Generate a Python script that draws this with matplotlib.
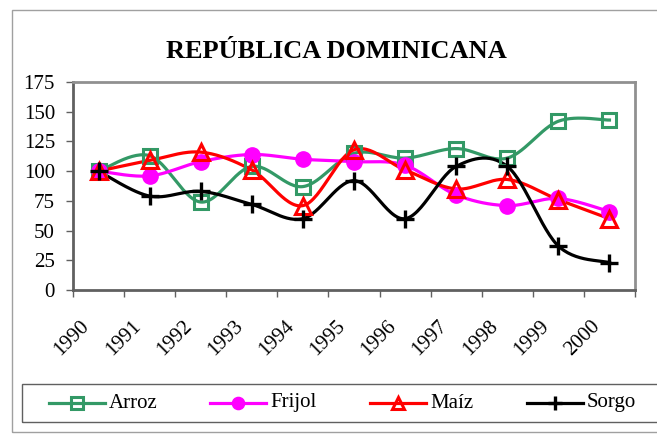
import numpy as np
import matplotlib
matplotlib.use("Agg")
import matplotlib.pyplot as plt
import matplotlib.transforms as mtransforms
from matplotlib.lines import Line2D
from matplotlib.patches import Rectangle

years = ["1990", "1991", "1992", "1993", "1994", "1995", "1996", "1997", "1998", "1999", "2000"]
arroz = [100, 113, 74, 104, 87, 115, 111, 119, 111, 142, 143]
frijol = [100, 96, 108, 114, 110, 108, 105, 80, 71, 77, 66]
maiz = [100, 109, 116, 101, 71, 118, 101, 85, 93, 76, 60]
sorgo = [100, 79, 83, 72, 60, 92, 60, 104, 104, 37, 23]
series_names = ["Arroz", "Frijol", "Maíz", "Sorgo"]

plt.rcParams['font.family'] = ['Liberation Serif', 'DejaVu Serif']

W, H = 657, 437
fig = plt.figure(figsize=(W / 100, H / 100), dpi=100)

# outer chart border
fig.patches.append(Rectangle((12 / W, 1 - 432 / H), 1.2, (432 - 10) / H,
                             transform=fig.transFigure, fill=False,
                             edgecolor='#a0a0a0', linewidth=1.0))

ax = fig.add_axes([73 / W, 1 - 290 / H, (635 - 73) / W, (290 - 82) / H])


def smooth(xs, ys, n=30):
    P = np.column_stack([np.asarray(xs, float), np.asarray(ys, float)])
    out = [P[0]]
    m = len(P)
    for i in range(m - 1):
        p0 = P[i - 1] if i > 0 else P[i]
        p1 = P[i]
        p2 = P[i + 1]
        p3 = P[i + 2] if i + 2 < m else P[i + 1]
        c1 = p1 + (p2 - p0) / 6.0
        c2 = p2 - (p3 - p1) / 6.0
        t = np.linspace(0, 1, n)[1:, None]
        seg = ((1 - t) ** 3) * p1 + 3 * ((1 - t) ** 2) * t * c1 + 3 * (1 - t) * t ** 2 * c2 + t ** 3 * p2
        out.extend(seg)
    out = np.array(out)
    return out[:, 0], out[:, 1]


x = np.arange(len(years))
styles = [
    (arroz, '#339966', dict(marker='s', markerfacecolor='none', markersize=10, markeredgewidth=2.2)),
    (frijol, '#FF00FF', dict(marker='o', markerfacecolor='#FF00FF', markersize=11, markeredgewidth=1)),
    (maiz, '#FF0000', dict(marker='^', markerfacecolor='none', markersize=11, markeredgewidth=2.2)),
    (sorgo, '#000000', dict(marker='+', markersize=13, markeredgewidth=2.4)),
]
for (vals, col, mk), name in zip(styles, series_names):
    sx, sy = smooth(x, vals)
    ax.plot(sx, sy, color=col, linewidth=2.3, zorder=2)
    ax.plot(x, vals, linestyle='none', color=col, markeredgecolor=col, zorder=3, **mk)

ax.set_xlim(-0.5, len(years) - 0.5)
ax.set_ylim(0, 175)
ax.set_yticks(np.arange(0, 176, 25))
ax.tick_params(axis='y', labelsize=15, length=5, width=1, color='#606060', pad=8)
ax.set_xticks(np.arange(-0.5, len(years), 1.0))
ax.set_xticklabels([])
ax.tick_params(axis='x', which='major', length=5, width=1, color='#606060')
ax.set_xticks(x, minor=True)
ax.set_xticklabels(years, minor=True, rotation=45, ha='right', va='top', fontsize=15)
ax.tick_params(axis='x', which='minor', length=0, pad=19)
shift = mtransforms.ScaledTranslation(-5 / 100, 0, fig.dpi_scale_trans)
for lbl in ax.get_xticklabels(minor=True):
    lbl.set_transform(lbl.get_transform() + shift)

for s in ['top', 'right']:
    ax.spines[s].set_color('#909090')
    ax.spines[s].set_linewidth(2.0)
for s in ['left', 'bottom']:
    ax.spines[s].set_color('#606060')
    ax.spines[s].set_linewidth(2.0)

fig.text(336 / W, 1 - 52 / H, "REPÚBLICA DOMINICANA", ha='center', va='center',
         fontsize=19, fontweight='bold')

# legend box drawn by hand
fig.patches.append(Rectangle((22 / W, 1 - 422 / H), 1.2, (422 - 384) / H,
                             transform=fig.transFigure, fill=False,
                             edgecolor='#606060', linewidth=1.0))
ly = 1 - 403 / H
line_x0 = [49, 210, 370, 527]
for (vals, col, mk), name, lx in zip(styles, series_names, line_x0):
    lmk = dict(mk)
    lmk['markersize'] = mk['markersize'] * 0.8
    fig.add_artist(Line2D([lx / W, (lx + 56) / W], [ly, ly], color=col, linewidth=2.3,
                          transform=fig.transFigure))
    fig.add_artist(Line2D([(lx + 28) / W], [ly], linestyle='none', color=col,
                          markeredgecolor=col, transform=fig.transFigure, **lmk))
    fig.text((lx + 60) / W, ly, name, ha='left', va='center', fontsize=15)

fig.savefig("out.png", dpi=100)
